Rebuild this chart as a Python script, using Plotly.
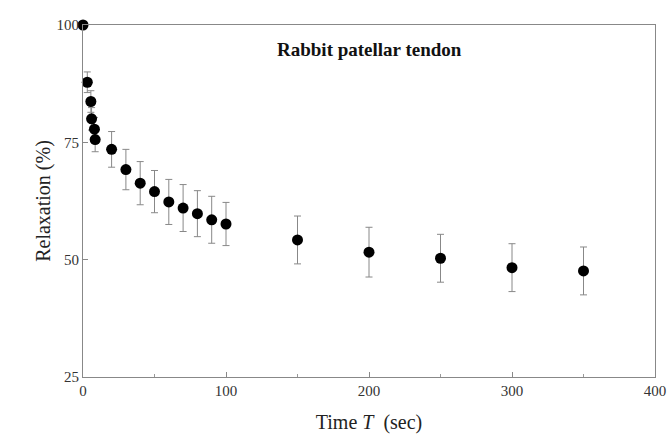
import plotly.graph_objects as go

time_s = [0, 3, 5.5, 6, 8, 8.5, 20, 30, 40, 50, 60, 70, 80, 90, 100, 150, 200, 250, 300, 350]
relax = [100, 87.8, 83.7, 80.0, 77.8, 75.6, 73.5, 69.2, 66.3, 64.5, 62.3, 61.0, 59.8, 58.5, 57.6, 54.2, 51.6, 50.3, 48.3, 47.6]
err = [0, 2.2, 2.3, 2.4, 2.5, 2.6, 3.8, 4.3, 4.6, 4.5, 4.8, 5.0, 4.9, 5.0, 4.6, 5.1, 5.3, 5.1, 5.1, 5.1]

x_ticks = [0, 100, 200, 300, 400]
y_ticks = [25, 50, 75, 100]

serif = "Liberation Serif, Times New Roman, serif"

fig = go.Figure()
fig.add_trace(go.Scatter(
    x=time_s, y=relax, mode="markers",
    marker=dict(color="black", size=11),
    error_y=dict(type="data", array=err, visible=True, color="#888888", thickness=1, width=3.5),
    showlegend=False, cliponaxis=False,
))

fig.update_layout(
    width=667, height=435,
    margin=dict(l=83, r=12, t=25, b=58),
    paper_bgcolor="white", plot_bgcolor="white",
    font=dict(family=serif, color="#333333", size=15),
    annotations=[dict(
        text="<b>Rabbit patellar tendon</b>", x=0.336, y=0.929, xref="paper", yref="paper",
        xanchor="left", yanchor="middle", showarrow=False,
        font=dict(family=serif, size=19, color="#111111"),
    )],
)
fig.update_xaxes(
    range=[0, 400], tickvals=x_ticks, ticktext=[str(v) for v in x_ticks],
    showline=True, linecolor="#888888", linewidth=1, mirror=True,
    ticks="inside", ticklen=5, tickcolor="#888888",
    minor=dict(tickvals=[50, 150, 250, 350], ticks="inside", ticklen=3, tickcolor="#999999"),
    showgrid=False, zeroline=False, automargin=False,
    title=dict(text="Time <i>T</i>  (sec)", font=dict(family=serif, size=20, color="#222222"), standoff=16),
)
fig.update_yaxes(
    range=[25, 100], tickvals=y_ticks, ticktext=[str(v) for v in y_ticks],
    showline=True, linecolor="#888888", linewidth=1, mirror=True,
    ticks="inside", ticklen=5, tickcolor="#888888",
    showgrid=False, zeroline=False, automargin=False,
    title=dict(text="Relaxation (%)", font=dict(family=serif, size=20, color="#222222"), standoff=0),
)

fig.write_html("out.html")
